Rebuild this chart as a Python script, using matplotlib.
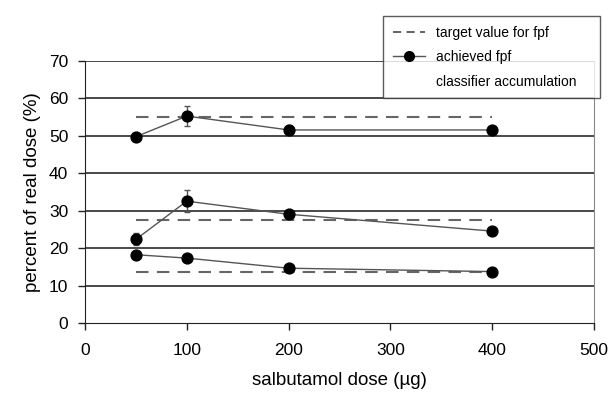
import matplotlib
matplotlib.use("Agg")
import matplotlib.pyplot as plt
from matplotlib.lines import Line2D

plt.rcParams['font.family'] = ['Liberation Sans', 'DejaVu Sans']

doses = [50, 100, 200, 400]

upper_vals = [49.8, 55.3, 51.6, 51.6]
upper_err = [0.0, 2.7, 1.4, 0.0]
middle_vals = [22.4, 32.6, 29.1, 24.6]
middle_err = [1.6, 3.0, 0.0, 0.0]
lower_vals = [18.3, 17.4, 14.7, 13.8]
lower_err = [0.0, 0.0, 0.0, 0.0]

target_values = [55.0, 27.5, 13.7]
target_x = [50, 400]

x_ticks = [0, 100, 200, 300, 400, 500]
y_ticks = [0, 10, 20, 30, 40, 50, 60, 70]

fig = plt.figure(figsize=(6.1, 3.95), dpi=100)
ax = fig.add_axes([85/610, 1-323.3/395, (594-85)/610, (323.3-61)/395])

for yt in y_ticks[1:]:
    ax.axhline(yt, color='#3a3a3a', lw=1.3, zorder=1)

for tv in target_values:
    ax.plot(target_x, [tv, tv], color='#666666', lw=1.5, dashes=(6, 4), zorder=2)

for vals, errs in [(upper_vals, upper_err), (middle_vals, middle_err), (lower_vals, lower_err)]:
    ax.errorbar(doses, vals, yerr=errs, color='#555555', lw=1.0, elinewidth=1.0,
                capsize=2.5, capthick=1.0, marker='o', markersize=7.8,
                markerfacecolor='black', markeredgecolor='black', zorder=3)

ax.set_xlim(0, 500)
ax.set_ylim(0, 70)
ax.set_xticks(x_ticks)
ax.set_yticks(y_ticks)
ax.tick_params(axis='both', labelsize=12.5, direction='out', length=5, width=1, color='#222222')
ax.tick_params(axis='y', pad=7)
ax.tick_params(axis='x', pad=9)

ax.spines['top'].set_visible(False)
ax.spines['right'].set_color('#888888')
ax.spines['left'].set_color('#222222')
ax.spines['bottom'].set_color('#222222')

ax.set_xlabel('salbutamol dose (µg)', fontsize=13.5, labelpad=10)
ax.set_ylabel('percent of real dose (%)', fontsize=13.5, labelpad=6)

handles = [
    Line2D([], [], color='#555555', lw=1.3, dashes=(4.5, 3)),
    Line2D([], [], color='#555555', lw=1.0, marker='o', markersize=7,
           markerfacecolor='black', markeredgecolor='black'),
    Line2D([], [], color='none'),
]
labels = ['target value for fpf', 'achieved fpf', 'classifier accumulation']
leg = fig.legend(handles, labels, loc='upper left', mode='expand',
                 bbox_to_anchor=(383/610, 1-97/395, 217/610, 81/395), fontsize=10,
                 frameon=True, fancybox=False, shadow=False,
                 handlelength=2.3, handletextpad=0.8, borderpad=0.7,
                 labelspacing=0.75, borderaxespad=0)
leg.get_frame().set_edgecolor('#333333')
leg.get_frame().set_linewidth(1.0)

fig.savefig('out.png', dpi=100)
